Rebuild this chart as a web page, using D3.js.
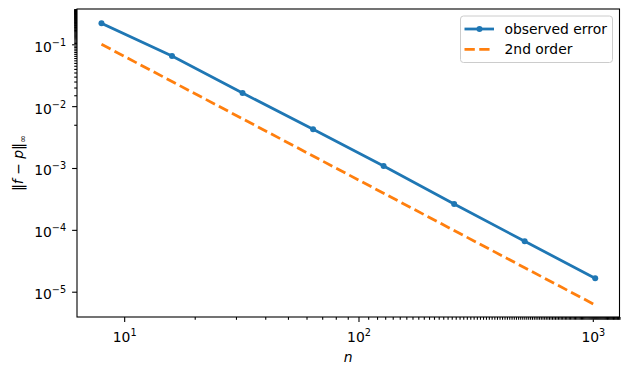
<!DOCTYPE html>
<html>
<head>
<meta charset="utf-8">
<script src="https://cdn.jsdelivr.net/npm/d3@7"></script>
<style>
  body { margin: 0; background: #fff; }
  svg text { font-family: "DejaVu Sans", sans-serif; fill: #000; }
</style>
</head>
<body>
<div id="chart"></div>
<script>
// values
const nValues = [8, 16, 32, 64, 128, 256, 512, 1024];
const observedError = [0.219, 0.0647, 0.0163, 0.00422, 0.00108, 0.000262, 0.0000653, 0.0000165];
const secondOrder = [0.1, 0.025, 0.00625, 0.0015625, 0.000390625, 0.0000976563, 0.0000244141, 0.00000610352];
const seriesNames = [`observed error`, `2nd order`];
const xMajorTicks = [10, 100, 1000];
const yMajorTicks = [1e-5, 1e-4, 1e-3, 1e-2, 1e-1];
const xTickExps = [`1`, `2`, `3`];
const yTickExps = [`−5`, `−4`, `−3`, `−2`, `−1`];
const xLimits = [6.29, 1300];
const yLimits = [3.9e-6, 0.372];

const width = 629;
const height = 375;
const margin = { top: 9, right: 9.5, bottom: 58, left: 77 };
const innerW = width - margin.left - margin.right;
const innerH = height - margin.top - margin.bottom;

const blue = `#1f77b4`;
const orange = `#ff7f0e`;

const svg = d3.select(`#chart`).append(`svg`)
  .attr(`width`, width)
  .attr(`height`, height);

const g = svg.append(`g`)
  .attr(`transform`, `translate(${margin.left},${margin.top})`);

const x = d3.scaleLog().domain(xLimits).range([0, innerW]);
const y = d3.scaleLog().domain(yLimits).range([innerH, 0]);

// minor ticks: every 2..9 multiple inside the limits
const minorOf = (scale, majors) => scale.ticks(100).filter((v) => {
  const [a, b] = scale.domain();
  return v >= a && v <= b && !majors.some((m) => Math.abs(m - v) / m < 1e-6);
});

g.append(`g`)
  .attr(`transform`, `translate(0,${innerH})`)
  .call(d3.axisBottom(x).tickValues(minorOf(x, xMajorTicks)).tickSize(2.8).tickFormat(``))
  .call((s) => s.select(`.domain`).remove());
g.append(`g`)
  .call(d3.axisLeft(y).tickValues(minorOf(y, yMajorTicks)).tickSize(2.8).tickFormat(``))
  .call((s) => s.select(`.domain`).remove());

const xAxis = g.append(`g`)
  .attr(`transform`, `translate(0,${innerH})`)
  .call(d3.axisBottom(x).tickValues(xMajorTicks).tickSize(4.9).tickPadding(8).tickFormat(``))
  .call((s) => s.select(`.domain`).remove());
const yAxis = g.append(`g`)
  .call(d3.axisLeft(y).tickValues(yMajorTicks).tickSize(4.9).tickPadding(6).tickFormat(``))
  .call((s) => s.select(`.domain`).remove());

svg.selectAll(`.tick line`).attr(`stroke`, `#000`).attr(`stroke-width`, 1.1);

const powerLabel = (sel, exps) => {
  sel.selectAll(`.tick text`).each(function(d, i) {
    const t = d3.select(this).text(``).style(`font-size`, `13.9px`);
    t.append(`tspan`).text(`10`);
    t.append(`tspan`).attr(`dy`, -6).style(`font-size`, `9.7px`).text(exps[i]);
  });
};
powerLabel(xAxis, xTickExps);
powerLabel(yAxis, yTickExps);
xAxis.selectAll(`.tick text`).attr(`dy`, `0.9em`);
yAxis.selectAll(`.tick text`).attr(`dy`, `0.5em`);

// series
const line = d3.line().x((d) => x(d[0])).y((d) => y(d[1]));
const blueData = nValues.map((n, i) => [n, observedError[i]]);
const orangeData = nValues.map((n, i) => [n, secondOrder[i]]);

g.append(`path`)
  .datum(orangeData)
  .attr(`d`, line)
  .attr(`fill`, `none`)
  .attr(`stroke`, orange)
  .attr(`stroke-width`, 2.78)
  .attr(`stroke-dasharray`, `10.3,4.45`);

g.append(`path`)
  .datum(blueData)
  .attr(`d`, line)
  .attr(`fill`, `none`)
  .attr(`stroke`, blue)
  .attr(`stroke-width`, 2.78)
  .attr(`stroke-linecap`, `square`);

g.selectAll(`.pt`)
  .data(blueData)
  .enter().append(`circle`)
    .attr(`class`, `pt`)
    .attr(`cx`, (d) => x(d[0]))
    .attr(`cy`, (d) => y(d[1]))
    .attr(`r`, 3)
    .attr(`fill`, blue);

// frame
g.append(`rect`)
  .attr(`width`, innerW)
  .attr(`height`, innerH)
  .attr(`fill`, `none`)
  .attr(`stroke`, `#000`)
  .attr(`stroke-width`, 1.1);

// axis labels
svg.append(`text`)
  .attr(`x`, margin.left + innerW / 2)
  .attr(`y`, 362)
  .attr(`text-anchor`, `middle`)
  .style(`font-size`, `13.9px`)
  .style(`font-style`, `italic`)
  .text(`n`);

const yl = svg.append(`text`)
  .attr(`transform`, `translate(23,${margin.top + innerH / 2}) rotate(-90)`)
  .attr(`text-anchor`, `middle`)
  .style(`font-size`, `13.9px`);
yl.append(`tspan`).text(`‖`);
yl.append(`tspan`).style(`font-style`, `italic`).text(`f`);
yl.append(`tspan`).text(` − `);
yl.append(`tspan`).style(`font-style`, `italic`).text(`p`);
yl.append(`tspan`).text(`‖`);
yl.append(`tspan`).attr(`dy`, 3).style(`font-size`, `9.7px`).text(`∞`);

// legend
const legend = svg.append(`g`).attr(`transform`, `translate(460.5,16)`);
legend.append(`rect`)
  .attr(`width`, 152)
  .attr(`height`, 46.5)
  .attr(`rx`, 3)
  .attr(`fill`, `#fff`)
  .attr(`fill-opacity`, 0.8)
  .attr(`stroke`, `#ccc`)
  .attr(`stroke-width`, 1);

seriesNames.forEach((name, i) => {
  const ly = 13 + i * 20.3;
  const row = legend.append(`g`).attr(`transform`, `translate(0,${ly})`);
  row.append(`line`)
    .attr(`x1`, 4).attr(`x2`, 33.5)
    .attr(`stroke`, i === 0 ? blue : orange)
    .attr(`stroke-width`, 2.78)
    .attr(`stroke-dasharray`, i === 0 ? null : `10.3,4.45`);
  if (i === 0) {
    row.append(`circle`).attr(`cx`, 19).attr(`r`, 3).attr(`fill`, blue);
  }
  row.append(`text`)
    .attr(`x`, 44)
    .attr(`dy`, `0.35em`)
    .style(`font-size`, `13.9px`)
    .text(name);
});
</script>
</body>
</html>
